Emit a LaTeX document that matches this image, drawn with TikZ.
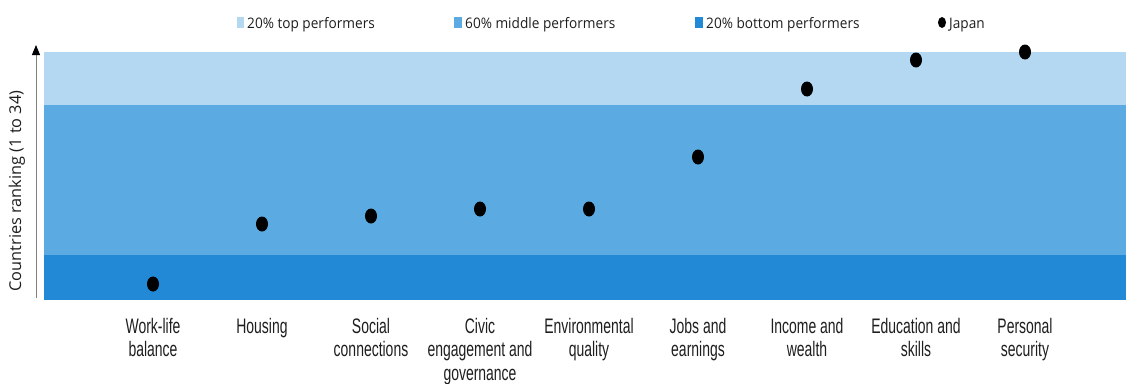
\documentclass[tikz,border=0pt]{standalone}
\usepackage{fontspec}
\usetikzlibrary{arrows.meta,shapes.geometric}
\newfontfamily\narrowfont[FakeStretch=0.665]{Liberation Sans}
\newfontfamily\legendfont[FakeStretch=0.94]{Open Sans}
\newfontfamily\opensansfont{Open Sans}
\definecolor{topband}{RGB}{180,216,242}
\definecolor{midband}{RGB}{91,170,226}
\definecolor{botband}{RGB}{34,137,214}
\definecolor{labeltext}{RGB}{30,30,30}
\tikzset{
  dot/.style={ellipse, fill=black, inner sep=0pt, minimum width=12pt, minimum height=15pt},
  catlabel/.style={anchor=north, align=center, inner sep=0pt, text=labeltext,
    font=\narrowfont\fontsize{21}{23.5}\selectfont},
  legtext/.style={anchor=base west, inner sep=0pt, text=labeltext,
    font=\legendfont\fontsize{14.5}{17}\selectfont},
  axislabel/.style={rotate=90, inner sep=0pt, text=labeltext,
    font=\opensansfont\fontsize{16.3}{18}\selectfont}
}
\begin{document}
\begin{tikzpicture}[x=1pt,y=-1pt]
\useasboundingbox (0,0) rectangle (1126,383);
% bands
\fill[topband] (44,52) rectangle (1126,105);
\fill[midband] (44,105) rectangle (1126,255);
\fill[botband] (44,255) rectangle (1126,300);
% axis
\coordinate (axbot) at (36,298);
\coordinate (axtop) at (36,45);
\draw[color=gray, line width=1pt, -{Triangle[width=8pt,length=10pt,color=black]}] (axbot) -- (axtop);
\node[axislabel] (ylab) at (17,191) {Countries ranking (1 to 34)};
% legend
\fill[topband] (236.5,17) rectangle (244,28);
\node[legtext] (l1) at (247,28) {20\% top performers};
\fill[midband] (454,17) rectangle (462,28);
\node[legtext] (l2) at (465,28) {60\% middle performers};
\fill[botband] (695,17) rectangle (703,28);
\node[legtext] (l3) at (706,28) {20\% bottom performers};
\node[ellipse, fill=black, inner sep=0pt, minimum width=8pt, minimum height=11pt] (l4d) at (942,22.5) {};
\node[legtext] (l4) at (949,28) {Japan};
% dots
\node[dot] (d1) at (153,284) {};
\node[dot] (d2) at (262,224) {};
\node[dot] (d3) at (371,216) {};
\node[dot] (d4) at (480,209) {};
\node[dot] (d5) at (589,209) {};
\node[dot] (d6) at (698,157) {};
\node[dot] (d7) at (807,89) {};
\node[dot] (d8) at (916,60) {};
\node[dot] (d9) at (1025,52) {};
% labels
\node[catlabel] (c1) at (153,318) {Work-life\\balance};
\node[catlabel] (c2) at (262,318) {Housing};
\node[catlabel] (c3) at (371,318) {Social\\connections};
\node[catlabel] (c4) at (480,318) {Civic\\engagement and\\governance};
\node[catlabel] (c5) at (589,318) {Environmental\\quality};
\node[catlabel] (c6) at (698,318) {Jobs and\\earnings};
\node[catlabel] (c7) at (807,318) {Income and\\wealth};
\node[catlabel] (c8) at (916,318) {Education and\\skills};
\node[catlabel] (c9) at (1025,318) {Personal\\security};
\end{tikzpicture}
\end{document}
